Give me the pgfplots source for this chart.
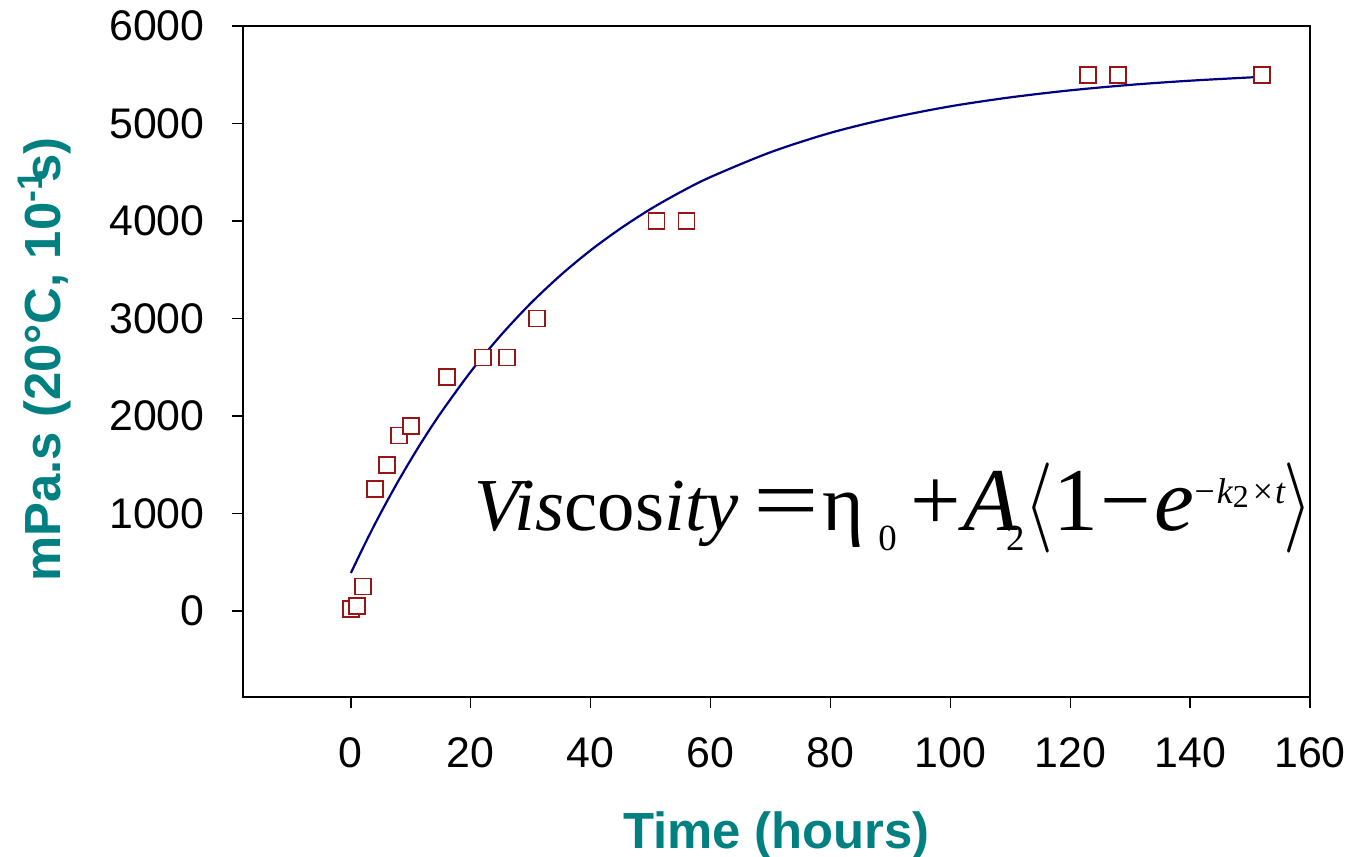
\documentclass[border=0pt]{standalone}
\usepackage{graphicx}
\usepackage{pgfplots}
\pgfplotsset{compat=1.18}
\usepackage{fontspec}
\setmainfont{Liberation Sans}
\newfontfamily\tms{Liberation Serif}
\definecolor{teal1}{HTML}{008080}
\definecolor{mred}{HTML}{991414}
\definecolor{navy1}{HTML}{000080}
\newcommand{\sz}[1]{\fontsize{#1}{#1}\selectfont}
\begin{document}
\begin{tikzpicture}
\begin{axis}[
  at={(0,0)}, anchor=south west,
  scale only axis,
  width=533.5bp, height=335.5bp,
  xmin=-18, xmax=160, ymin=-882, ymax=6000,
  xtick={0,20,...,160}, ytick={0,1000,...,6000},
  axis line style={line width=0.7bp},
  every tick/.style={line width=0.7bp, black},
  tick align=outside, major tick length=5.5bp,
  xtick pos=bottom, ytick pos=left,
  /pgf/number format/assume math mode=true,
  /pgf/number format/1000 sep={},
  tick label style={font=\fontsize{21.5}{24}\selectfont},
  xticklabel style={inner sep=0pt, anchor=north, yshift=-14.5bp},
  yticklabel style={inner sep=0pt, anchor=east, xshift=-13.5bp},
  xlabel={Time (hours)},
  ylabel={mPa.s (20°C, 10\textsuperscript{-1}\kern-0.25em s)},
  xlabel style={at={(axis description cs:0.5,0)}, anchor=north, yshift=-57bp, inner sep=0pt,
    font=\fontsize{25.5}{28}\selectfont\bfseries, text=teal1},
  ylabel style={at={(axis description cs:-0.1856,0.503)}, anchor=center, inner sep=0pt,
    font=\fontsize{25.5}{28}\selectfont\bfseries, text=teal1},
  clip=false,
]
\addplot[navy1, line width=1.1bp, smooth] coordinates {
(0,390) (2,646) (4,891) (6,1122) (8,1343) (10,1552) (12,1752) (15,2032)
(20,2455) (25,2827) (30,3156) (35,3445) (40,3700) (45,3924) (50,4123)
(55,4297) (60,4451) (70,4705) (80,4904) (90,5056) (100,5176) (110,5268)
(120,5340) (130,5396) (140,5439) (152,5479)
};
\addplot[only marks, mark=square*, mark size=4bp, mark options={draw=mred, fill=white, line width=0.8bp}] coordinates {
(0,20) (1,50) (2,250) (4,1250) (6,1500) (8,1800) (10,1900) (16,2400)
(22,2600) (26,2600) (31,3000) (51,4000) (56,4000) (123,5500) (128,5500) (152,5500)
};
\node[anchor=base west, inner sep=0pt] at (axis cs:20.6,830) {\tms
\sz{37.5}\itshape Vis\upshape cos\itshape ity\upshape\kern7bp\scalebox{1.3}[1]{\sz{45}=}\kern2bp{\sz{40}η}\kern7bp\raisebox{-10bp}{\sz{18.5}0}\kern7bp{\sz{45}+}\kern1bp%
\sz{45}\itshape A\upshape\kern-6bp\raisebox{-10bp}{\sz{18.5}2}\kern0bp%
\scalebox{1.8}[2.18]{\sz{20}$\langle$}\kern0bp 1\kern1bp−\kern2bp\itshape e\upshape\kern0bp%
\raisebox{13.5bp}{\sz{18}−\kern1bp\itshape k\upshape\raisebox{-2bp}{\sz{16}2}\kern2bp×\kern1bp\itshape t}\kern-1bp%
\scalebox{1.8}[2.18]{\sz{20}$\rangle$}};
\end{axis}
\pgfresetboundingbox
\useasboundingbox (-121.5bp,-80bp) rectangle (555bp,348.5bp);
\end{tikzpicture}
\end{document}
